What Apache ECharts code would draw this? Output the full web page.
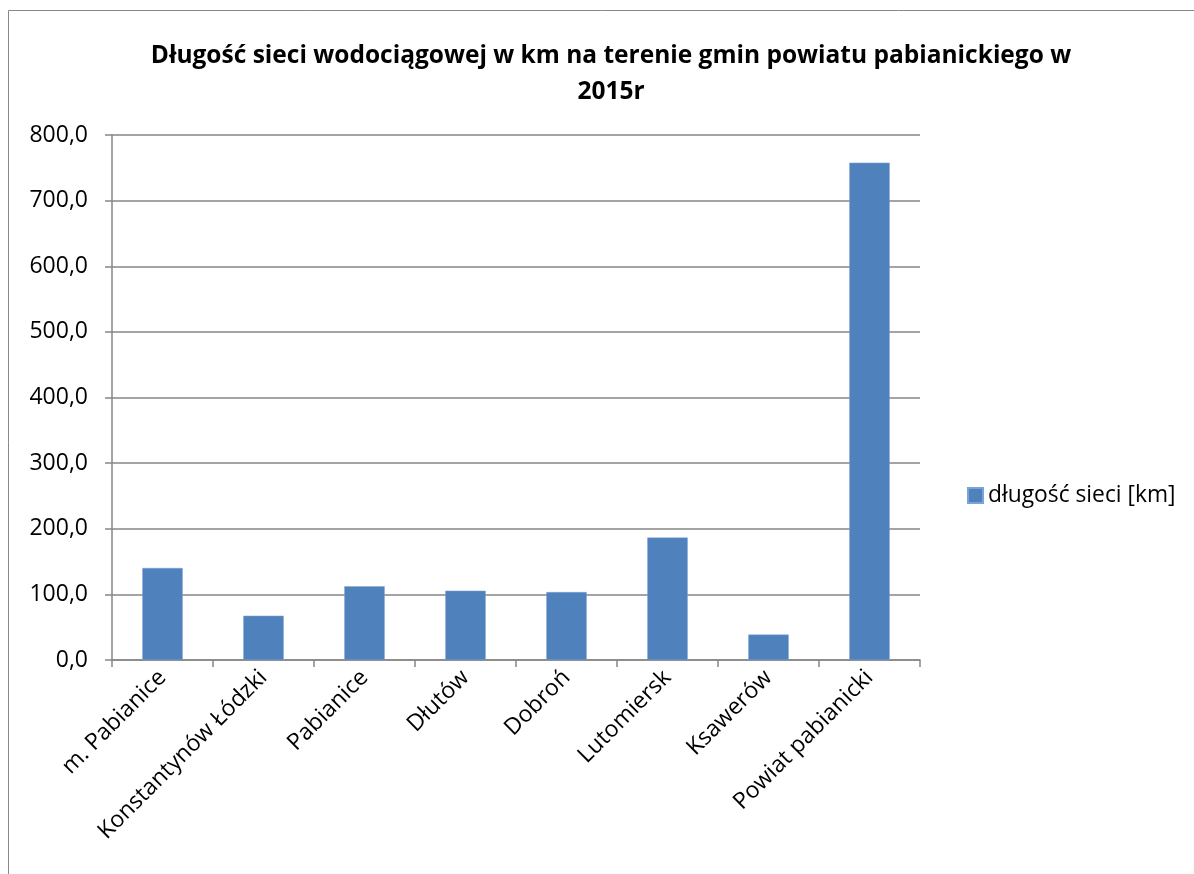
<!DOCTYPE html>
<html>
<head>
<meta charset="utf-8">
<script src="https://cdn.jsdelivr.net/npm/echarts@6/dist/echarts.min.js"></script>
<style>
html,body{margin:0;padding:0;background:#fff;}
#chart{width:1194px;height:874px;}
</style>
</head>
<body>
<div id="chart"></div>
<script>
const titleText = 'Długość sieci wodociągowej w km na terenie gmin powiatu pabianickiego w\n2015r';
const categories = ['m. Pabianice', 'Konstantynów Łódzki', 'Pabianice', 'Dłutów', 'Dobroń', 'Lutomiersk', 'Ksawerów', 'Powiat pabianicki'];
const seriesName = 'długość sieci [km]';
const values = [140.2, 67.5, 112.2, 105.6, 103.5, 186.6, 38.7, 757.8];
const yTicks = [0, 100, 200, 300, 400, 500, 600, 700, 800];

const FONT = '"Open Sans", "Liberation Sans", sans-serif';
const chart = echarts.init(document.getElementById('chart'), null, {renderer: 'canvas'});
chart.setOption({
  backgroundColor: '#ffffff',
  animation: false,
  title: {
    text: titleText,
    left: 606, top: 33, textAlign: 'center',
    textStyle: {fontFamily: FONT, fontSize: 24.5, fontWeight: 'bold', color: '#000', lineHeight: 36}
  },
  graphic: [{
    type: 'rect', silent: true,
    shape: {x: 8.5, y: 10.5, width: 1300, height: 1000},
    style: {fill: 'none', stroke: '#888888', lineWidth: 1}
  }],
  legend: {
    data: [seriesName],
    left: 962, top: 479,
    itemWidth: 15, itemHeight: 15, itemGap: 6,
    icon: 'rect',
    textStyle: {fontFamily: FONT, fontSize: 22.8, color: '#000', padding: [0, 0, 0, 0]}
  },
  grid: {left: 112, right: 274, top: 135, bottom: 214, containLabel: false},
  xAxis: {
    type: 'category',
    data: categories,
    boundaryGap: true,
    axisLine: {lineStyle: {color: '#868686', width: 1.5}},
    axisTick: {show: true, alignWithLabel: false, length: 7, lineStyle: {color: '#868686', width: 1.5}},
    axisLabel: {rotate: 45, interval: 0, margin: 14, fontFamily: FONT, fontSize: 23, color: '#000'}
  },
  yAxis: {
    type: 'value',
    min: 0, max: 800, interval: 100,
    axisLine: {show: true, lineStyle: {color: '#868686', width: 1.5}},
    axisTick: {show: true, length: 7, lineStyle: {color: '#868686', width: 1.5}},
    splitLine: {show: true, lineStyle: {color: '#868686', width: 1.5}},
    axisLabel: {
      margin: 24, fontFamily: FONT, fontSize: 23, color: '#000',
      formatter: v => yTicks.includes(v) ? v.toFixed(1).replace('.', ',') : ''
    }
  },
  series: [{
    name: seriesName,
    type: 'bar',
    data: values,
    barWidth: '40%',
    itemStyle: {color: '#4f81bd', borderColor: '#7da3d6', borderWidth: 0.5}
  }]
});
</script>
</body>
</html>
